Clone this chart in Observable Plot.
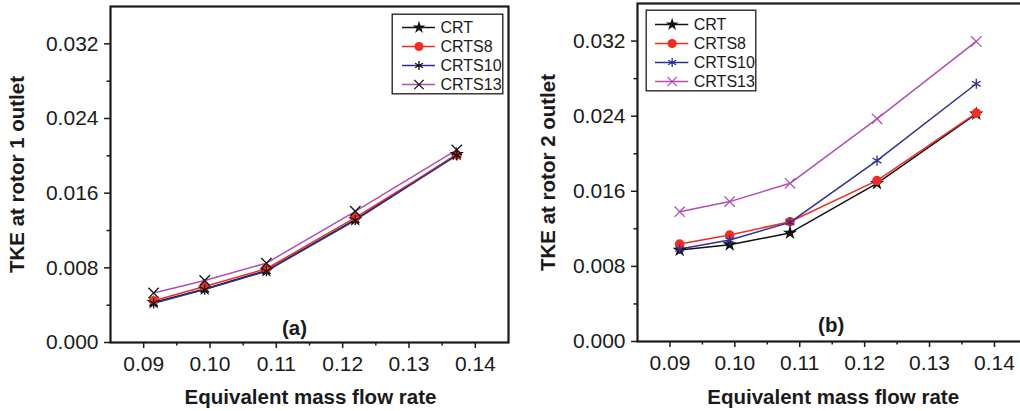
<!DOCTYPE html>
<html>
<head>
<meta charset="utf-8">
<script src="https://cdn.jsdelivr.net/npm/d3@7"></script>
<script src="https://cdn.jsdelivr.net/npm/@observablehq/plot@0.6"></script>
<style>
  html, body { margin: 0; padding: 0; background: #fff; width: 1020px; height: 411px; overflow: hidden; }
  #wrap { position: relative; width: 1020px; height: 411px; overflow: hidden; }
  .abs { position: absolute; }
</style>
</head>
<body>
<div id="wrap"></div>
<script>
// ---- data ----
const xFlow = [0.0915, 0.0992, 0.1085, 0.1219, 0.1372];
const seriesNames = ["CRT", "CRTS8", "CRTS10", "CRTS13"];
// TKE at rotor 1 outlet
const r1CRT    = [0.00430, 0.00574, 0.00771, 0.01317, 0.02016];
const r1CRTS8  = [0.00448, 0.00600, 0.00790, 0.01338, 0.02010];
const r1CRTS10 = [0.00420, 0.00567, 0.00764, 0.01310, 0.02005];
const r1CRTS13 = [0.00531, 0.00664, 0.00850, 0.01406, 0.02063];
// TKE at rotor 2 outlet
const r2CRT    = [0.00974, 0.01031, 0.01156, 0.01685, 0.02425];
const r2CRTS8  = [0.01038, 0.01134, 0.01276, 0.01714, 0.02432];
const r2CRTS10 = [0.00985, 0.01081, 0.01269, 0.01927, 0.02745];
const r2CRTS13 = [0.01383, 0.01490, 0.01685, 0.02372, 0.03196];
// ticks
const yTicks = [0, 0.008, 0.016, 0.024, 0.032];
const yMinor = [0.004, 0.012, 0.020, 0.028];
const xTicks = [0.09, 0.10, 0.11, 0.12, 0.13, 0.14];
const xMinor = [0.095, 0.105, 0.115, 0.125, 0.135];

// ---- styles ----
const FONT = "'Liberation Sans', Arial, Helvetica, sans-serif";
const INK = "#1a1a1a";
const lineColors = {CRT: "#111111", CRTS8: "#ee2d24", CRTS10: "#2e3192", CRTS13: "#b14fb5"};
const symbols = {CRT: "star", CRTS8: "circle", CRTS10: "asterisk", CRTS13: "times"};
const filled = {CRT: true, CRTS8: true, CRTS10: false, CRTS13: false};
const sizes = {CRT: 4.5, CRTS8: 4.8, CRTS10: 4.8, CRTS13: 4.8};
const legendSizes = {CRT: 4, CRTS8: 4.6, CRTS10: 4.3, CRTS13: 4.3};
const markerA = {CRT: "#111111", CRTS8: "#ee2d24", CRTS10: "#111111", CRTS13: "#111111"};
const markerB = {CRT: "#111111", CRTS8: "#ee2d24", CRTS10: "#2e3192", CRTS13: "#b14fb5"};

function rows(vals, name) { return xFlow.map((x, i) => ({x, y: vals[i], s: name})); }
const panelA = {CRT: rows(r1CRT, "CRT"), CRTS8: rows(r1CRTS8, "CRTS8"), CRTS10: rows(r1CRTS10, "CRTS10"), CRTS13: rows(r1CRTS13, "CRTS13")};
const panelB = {CRT: rows(r2CRT, "CRT"), CRTS8: rows(r2CRTS8, "CRTS8"), CRTS10: rows(r2CRTS10, "CRTS10"), CRTS13: rows(r2CRTS13, "CRTS13")};

function dotOpts(name, color, r, extra = {}) {
  const o = {symbol: symbols[name], r, ...extra};
  if (filled[name]) { o.fill = color; o.stroke = "none"; }
  else { o.stroke = color; o.fill = "none"; o.strokeWidth = 1.3; }
  return o;
}

function panel({data, markers, ml, mt, mb, w, plotW, yLabel, letter, letterDx, letterDy, yTitleDx, xTitleDx, xTitleDy}) {
  const marks = [];
  for (const name of seriesNames) marks.push(Plot.line(data[name], {x: "x", y: "y", stroke: lineColors[name], strokeWidth: 1.5}));
  for (const name of seriesNames) marks.push(Plot.dot(data[name], dotOpts(name, markers[name], sizes[name], {x: "x", y: "y"})));
  marks.push(
    Plot.axisY({ticks: yTicks, tickSize: 6, tickPadding: 6, tickFormat: d3.format(".3f"), fontSize: 21, label: null, stroke: INK, strokeWidth: 1.5, fill: INK}),
    Plot.axisY({ticks: yMinor, tickSize: 3.5, tickFormat: () => "", label: null, stroke: INK, strokeWidth: 1.5}),
    Plot.axisX({ticks: xTicks, tickSize: 6, tickPadding: 8, tickFormat: d3.format(".2f"), fontSize: 21, label: null, stroke: INK, strokeWidth: 1.5, fill: INK}),
    Plot.axisX({ticks: xMinor, tickSize: 3.5, tickFormat: () => "", label: null, stroke: INK, strokeWidth: 1.5}),
    Plot.frame({stroke: INK, strokeWidth: 2.2}),
    Plot.text([yLabel], {frameAnchor: "left", textAnchor: "middle", lineAnchor: "middle", dx: yTitleDx, rotate: -90, fontSize: 20.5, fontWeight: "bold", fill: INK}),
    Plot.text(["Equivalent mass flow rate"], {frameAnchor: "bottom", lineAnchor: "middle", dx: xTitleDx, dy: xTitleDy, fontSize: 20.5, fontWeight: "bold", fill: INK}),
    Plot.text([letter], {frameAnchor: "bottom", lineAnchor: "middle", dx: letterDx, dy: letterDy, fontSize: 20.5, fontWeight: "bold", fill: INK})
  );
  return Plot.plot({
    width: w, height: 411,
    marginLeft: ml, marginRight: w - ml - plotW, marginTop: mt, marginBottom: mb,
    x: {domain: [0.085, 0.145]},
    y: {domain: [0, 0.036]},
    style: {fontFamily: FONT, fontSize: "21px", color: INK, background: "transparent", overflow: "visible"},
    marks
  });
}

function legend(markers, w, h, top, bottom, lineX1, lineX2, textX) {
  const marks = [
    Plot.frame({stroke: INK, strokeWidth: 1.3, inset: 0.7}),
    Plot.ruleY(seriesNames, {y: d => d, x1: lineX1, x2: lineX2, stroke: d => lineColors[d], strokeWidth: 1.5})
  ];
  for (const name of seriesNames) marks.push(Plot.dot([name], dotOpts(name, markers[name], legendSizes[name], {x: (lineX1 + lineX2) / 2, y: d => d})));
  marks.push(Plot.text(seriesNames, {x: textX, y: d => d, text: d => d, textAnchor: "start", lineAnchor: "middle", fontSize: 16, fill: INK}));
  return Plot.plot({
    width: w, height: h, margin: 0,
    x: {domain: [0, w], axis: null},
    y: {type: "point", domain: seriesNames, padding: 0, insetTop: top, insetBottom: h - bottom, axis: null},
    color: {type: "identity"},
    style: {fontFamily: FONT, fontSize: "16px", background: "#fff", overflow: "visible"},
    marks
  });
}

const wrap = document.getElementById("wrap");
function place(node, left, top) { node.classList.add("abs"); node.style.left = left + "px"; node.style.top = top + "px"; wrap.appendChild(node); return node; }

place(panel({data: panelA, markers: markerA, ml: 110, mt: 6, mb: 69, w: 510, plotW: 398,
  yLabel: "TKE at rotor 1 outlet", letter: "(a)", letterDx: -15, letterDy: -14, yTitleDx: -93, xTitleDx: 1, xTitleDy: 55}), 0, 0);
place(panel({data: panelB, markers: markerB, ml: 127, mt: 3, mb: 70, w: 519, plotW: 389.4,
  yLabel: "TKE at rotor 2 outlet", letter: "(b)", letterDx: -1, letterDy: -16, yTitleDx: -89, xTitleDx: 1, xTitleDy: 56}), 510, 0);
place(legend(markerA, 112, 81, 13, 72, 11, 44, 49), 391, 13);
place(legend(markerB, 111, 82, 14.3, 72.7, 10, 43.3, 48.3), 645, 9);
</script>
</body>
</html>
